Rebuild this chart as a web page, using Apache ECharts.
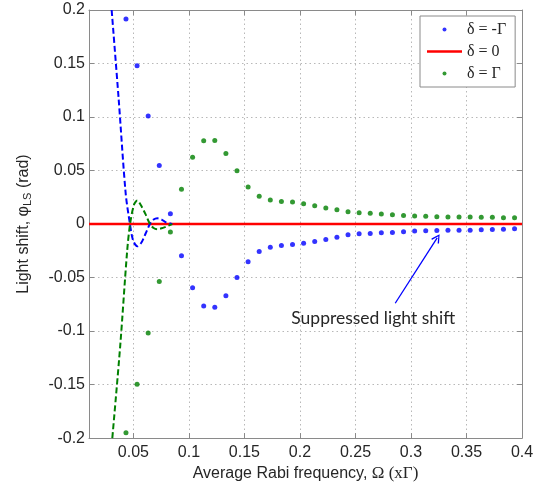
<!DOCTYPE html>
<html>
<head>
<meta charset="utf-8">
<script src="https://cdn.jsdelivr.net/npm/echarts@6/dist/echarts.min.js"></script>
<style>
  html, body { margin: 0; padding: 0; background: #fff; }
  #chart { width: 540px; height: 487px; }
</style>
</head>
<body>
<div id="chart"></div>
<script>
// Rabi frequency sample points (x Gamma)
const omega = [0.0433, 0.0533, 0.0633, 0.0733, 0.0833, 0.0933, 0.1033, 0.1133, 0.1233,
  0.1333, 0.1433, 0.1533, 0.1633, 0.1733, 0.1833, 0.1933, 0.2033, 0.2133, 0.2233, 0.2333,
  0.2433, 0.2533, 0.2633, 0.2733, 0.2833, 0.2933, 0.3033, 0.3133, 0.3233, 0.3333, 0.3433,
  0.3533, 0.3633, 0.3733, 0.3833, 0.3933];
// delta = -Gamma
const shiftMinus = [0.1917, 0.148, 0.1009, 0.0547, 0.0097, -0.0297, -0.0596, -0.0765, -0.0778,
  -0.067, -0.050, -0.0353, -0.0257, -0.0217, -0.0201, -0.0192, -0.018, -0.0163, -0.0144, -0.0123,
  -0.0100, -0.0091, -0.0088, -0.0081, -0.0079, -0.0072, -0.0066, -0.0063, -0.006, -0.0057, -0.0057,
  -0.0057, -0.0054, -0.0051, -0.0048, -0.0045];
// delta = +Gamma
const shiftPlus = [-0.195, -0.1498, -0.1018, -0.0537, -0.0075, 0.0325, 0.0624, 0.0778, 0.0781,
  0.066, 0.0497, 0.0346, 0.026, 0.0224, 0.0211, 0.0205, 0.019, 0.0171, 0.015, 0.0134,
  0.0115, 0.0106, 0.0100, 0.0094, 0.0088, 0.0081, 0.0076, 0.0072, 0.0069, 0.0067, 0.0067,
  0.0066, 0.0063, 0.0063, 0.006, 0.006];
// delta = 0
const zeroX = [0.01, 0.4];
const zeroY = [0, 0];
// dashed curves (low Rabi frequency)
const curveMinusX = [0.0304, 0.0367, 0.043, 0.0469, 0.0497, 0.0535, 0.0574,
  0.061, 0.0649, 0.0682, 0.0715, 0.0754, 0.079, 0.085];
const curveMinusY = [0.2, 0.117, 0.029, 0, -0.0152, -0.0208, -0.017,
  -0.0088, 0, 0.0042, 0.0054, 0.0042, 0.0018, 0];
const curvePlusX = [0.031, 0.0381, 0.0443, 0.047, 0.0505, 0.0535, 0.0565,
  0.061, 0.0649, 0.0682, 0.0715, 0.0754, 0.079, 0.085];
const curvePlusY = [-0.2, -0.114, -0.026, 0, 0.018, 0.022, 0.018,
  0.009, 0, -0.0037, -0.0048, -0.004, -0.0026, 0];
const xTicks = [0.05, 0.1, 0.15, 0.2, 0.25, 0.3, 0.35, 0.4];
const legendNames = ['δ = -Γ', 'δ = 0', 'δ = Γ'];

const pairs = (xs, ys) => xs.map((x, i) => [x, ys[i]]);

const FONT = 'Liberation Sans';
const AXIS_COLOR = '#8a8a8a';
const TEXT = '#262626';
const BLUE = '#0000ff';
const GREEN = '#008000';
const RED = '#ff0000';

const gridLine = {show: true, lineStyle: {color: '#b8b8b8', type: [1.5, 3], width: 1}};
const tick = {show: true, inside: true, length: 5, lineStyle: {color: AXIS_COLOR}};

const option = {
  animation: false,
  backgroundColor: '#fff',
  grid: {left: 89, right: 18, top: 10, bottom: 44},
  legend: {
    orient: 'vertical',
    left: 420,
    top: 16,
    padding: [5, 9, 5, 7],
    itemWidth: 35,
    itemHeight: 4,
    itemGap: 5,
    borderColor: AXIS_COLOR,
    borderWidth: 1,
    backgroundColor: '#fff',
    textStyle: {fontFamily: 'Liberation Serif', fontSize: 16, color: TEXT, lineHeight: 17},
    data: [
      {name: legendNames[0]},
      {name: legendNames[1], icon: 'path://M0,0 H35 V2.5 H0 Z'},
      {name: legendNames[2]}
    ]
  },
  xAxis: [{
    type: 'value',
    min: 0.01,
    max: 0.4,
    axisLine: {show: true, onZero: false, lineStyle: {color: AXIS_COLOR}},
    axisTick: Object.assign({customValues: xTicks}, tick),
    axisLabel: {customValues: xTicks, fontFamily: FONT, fontSize: 16, color: TEXT, margin: 6},
    splitLine: gridLine,
    name: '{a|Average Rabi frequency, }{g|Ω (xΓ)}',
    nameLocation: 'middle',
    nameGap: 25,
    nameTextStyle: {
      color: TEXT,
      rich: {
        a: {fontFamily: FONT, fontSize: 16, color: TEXT},
        g: {fontFamily: 'Liberation Serif', fontSize: 17, color: TEXT}
      }
    }
  }, {
    type: 'value',
    position: 'top',
    min: 0.01,
    max: 0.4,
    axisLine: {show: true, onZero: false, lineStyle: {color: AXIS_COLOR}},
    axisTick: Object.assign({customValues: xTicks}, tick),
    axisLabel: {show: false},
    splitLine: {show: false}
  }],
  yAxis: [{
    type: 'value',
    min: -0.2,
    max: 0.2,
    interval: 0.05,
    axisLine: {show: true, onZero: false, lineStyle: {color: AXIS_COLOR}},
    axisTick: tick,
    axisLabel: {fontFamily: FONT, fontSize: 16, color: TEXT, margin: 4},
    splitLine: gridLine,
    name: '{a|Light shift, φ}{s|LS}{a| (rad)}',
    nameLocation: 'middle',
    nameGap: 56,
    nameTextStyle: {
      color: TEXT,
      rich: {
        a: {fontFamily: FONT, fontSize: 16, color: TEXT},
        s: {fontFamily: FONT, fontSize: 11, color: TEXT, padding: [7, 0, 0, 0]}
      }
    }
  }, {
    type: 'value',
    position: 'right',
    min: -0.2,
    max: 0.2,
    interval: 0.05,
    axisLine: {show: true, onZero: false, lineStyle: {color: AXIS_COLOR}},
    axisTick: tick,
    axisLabel: {show: false},
    splitLine: {show: false}
  }],
  series: [
    {
      name: legendNames[0],
      type: 'scatter',
      symbol: 'circle',
      symbolSize: 5,
      itemStyle: {color: BLUE},
      data: pairs(omega, shiftMinus),
      markLine: {
        silent: true,
        symbol: ['none', 'path://M5,0 L10,9 L8.8,10 L5,2.6 L1.2,10 L0,9 Z'],
        symbolSize: 9,
        label: {show: false},
        lineStyle: {color: BLUE, width: 1.3, type: 'solid'},
        data: [[{coord: [0.2858, -0.074]}, {coord: [0.3236, -0.013]}]]
      },
      markPoint: {
        silent: true,
        symbol: 'circle',
        symbolSize: 0,
        label: {
          show: true,
          position: 'inside',
          formatter: 'Suppressed light shift',
          fontFamily: 'Lato',
          fontSize: 17.5,
          color: TEXT
        },
        data: [{coord: [0.266, -0.0882]}]
      }
    },
    {
      name: legendNames[1],
      type: 'line',
      symbol: 'none',
      lineStyle: {color: RED, width: 2.5},
      itemStyle: {color: RED},
      data: pairs(zeroX, zeroY),
      z: 1
    },
    {
      name: legendNames[2],
      type: 'scatter',
      symbol: 'circle',
      symbolSize: 5,
      itemStyle: {color: GREEN},
      data: pairs(omega, shiftPlus)
    },
    {
      name: 'fit -',
      type: 'line',
      symbol: 'none',
      smooth: 0.3,
      lineStyle: {color: BLUE, width: 2, type: [6, 3]},
      data: pairs(curveMinusX, curveMinusY),
      z: 3
    },
    {
      name: 'fit +',
      type: 'line',
      symbol: 'none',
      smooth: 0.3,
      lineStyle: {color: GREEN, width: 2, type: [6, 3]},
      data: pairs(curvePlusX, curvePlusY),
      z: 3
    }
  ]
};

const chart = echarts.init(document.getElementById('chart'), null, {renderer: 'canvas', devicePixelRatio: 1});
chart.setOption(option);
</script>
</body>
</html>
